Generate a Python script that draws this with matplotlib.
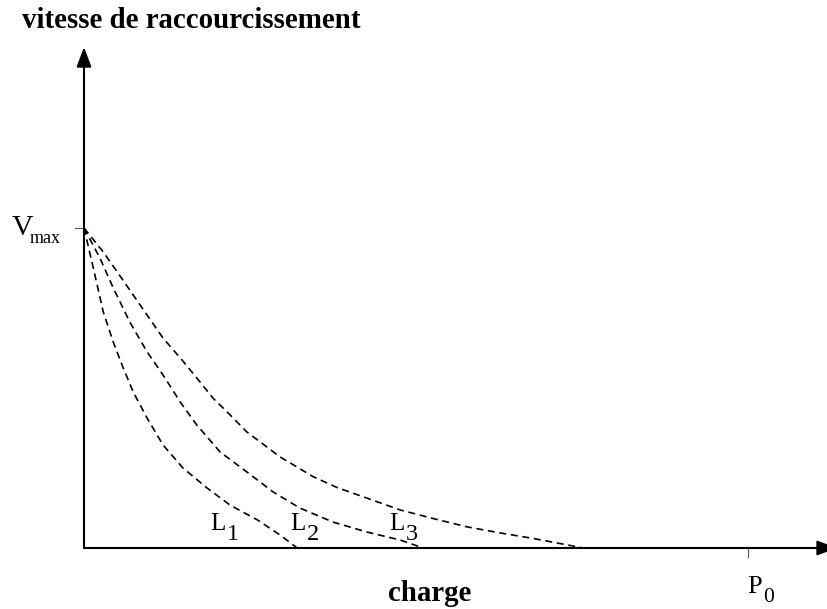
import matplotlib
matplotlib.use("Agg")
import matplotlib.pyplot as plt

# --- DONNÉES (charge en % de P0, vitesse en % de Vmax) ---
charge_L1 = [0, 1.4, 2.9, 4.4, 5.9, 7.4, 9.5, 11.9, 14.9, 18.5, 22.0, 26.1, 29.5, 32.1]
vitesse_L1 = [100, 87.5, 73.8, 64.4, 56.3, 48.8, 40.6, 32.2, 25.0, 18.8, 13.4, 8.8, 4.1, 0]

charge_L2 = [0, 2.4, 4.4, 6.9, 9.5, 11.9, 14.5, 17.0, 20.5, 24.5, 28.5, 32.5, 37.5,
             42.6, 47.6, 51.1]
vitesse_L2 = [100, 90.6, 81.3, 70.6, 61.3, 54.1, 45.6, 38.4, 30.0, 23.8, 17.5, 12.5, 8.1,
              5.0, 2.5, 0]

charge_L3 = [0, 2.9, 5.0, 6.9, 9.5, 11.9, 14.5, 17.0, 19.4, 22.0, 24.5, 29.5, 34.5, 38.1,
             42.6, 47.6, 52.6, 57.7, 62.7, 67.6, 72.7, 75.2]
vitesse_L3 = [100, 92.5, 86.3, 80.6, 72.8, 65.6, 59.4, 53.1, 46.9, 41.6, 36.3, 28.5, 22.3,
              18.9, 15.6, 11.9, 9.2, 6.6, 4.7, 3.0, 1.0, 0]

courbes = [(charge_L1, vitesse_L1), (charge_L2, vitesse_L2), (charge_L3, vitesse_L3)]

V_MAX = 100
P_0 = 100

W, H = 827, 609
plt.rcParams['font.family'] = ['Liberation Serif', 'DejaVu Serif']

fig = plt.figure(figsize=(W / 100, H / 100), dpi=100)


def px(x, y):
    """Pixel de l'image -> fraction de la figure."""
    return x / W, 1 - y / H


# axes : origine (84, 548), P0 à x=748, Vmax à y=228
x_max = (827 - 84) / 6.64
y_max = (548 - 47) / 3.2
ax = fig.add_axes([84 / W, (H - 548) / H, (827 - 84) / W, (548 - 47) / H])
ax.set_xlim(0, x_max)
ax.set_ylim(0, y_max)
ax.axis('off')

# --- COURBES ---
for cx, cy in courbes:
    ax.plot(cx, cy, color='black', lw=1.2, ls=(0, (4.2, 2.8)), clip_on=False)

# --- AXES AVEC FLÈCHES ---
fleche = dict(arrowstyle='-|>,head_length=1.2,head_width=0.45', lw=1.5, color='black',
              shrinkA=0, shrinkB=0, mutation_scale=10)
ax.annotate('', xy=(0, y_max), xytext=(0, 0), arrowprops=fleche, annotation_clip=False)
ax.annotate('', xy=((837 - 84) / 6.64, 0), xytext=(0, 0), arrowprops=fleche,
            annotation_clip=False)

# graduations Vmax et P0
ax.plot([-9 / 6.64, 0], [V_MAX, V_MAX], color='0.35', lw=0.8, clip_on=False)
ax.plot([P_0, P_0], [0, -9 / 3.2], color='0.35', lw=0.8, clip_on=False)

# --- TEXTES ---
fig.text(*px(22, 28), 'vitesse de raccourcissement', fontsize=20.8, fontweight='bold',
         va='baseline', ha='left')
fig.text(*px(430, 601), 'charge', fontsize=20.8, fontweight='bold', va='baseline',
         ha='center')

fig.text(*px(12, 235), 'V', fontsize=21.5, va='baseline', ha='left')
fig.text(*px(30, 243), 'max', fontsize=13, va='baseline', ha='left')

fig.text(*px(747, 593), 'P', fontsize=19, va='baseline', ha='left')
fig.text(*px(763, 602), '0', fontsize=15.5, va='baseline', ha='left')

for lx, num in [(210, '1'), (290, '2'), (389, '3')]:
    fig.text(*px(lx, 530), 'L', fontsize=18, va='baseline', ha='left')
    fig.text(*px(lx + 17, 540), num, fontsize=17.5, va='baseline', ha='left')

fig.savefig('out.png', dpi=100)
